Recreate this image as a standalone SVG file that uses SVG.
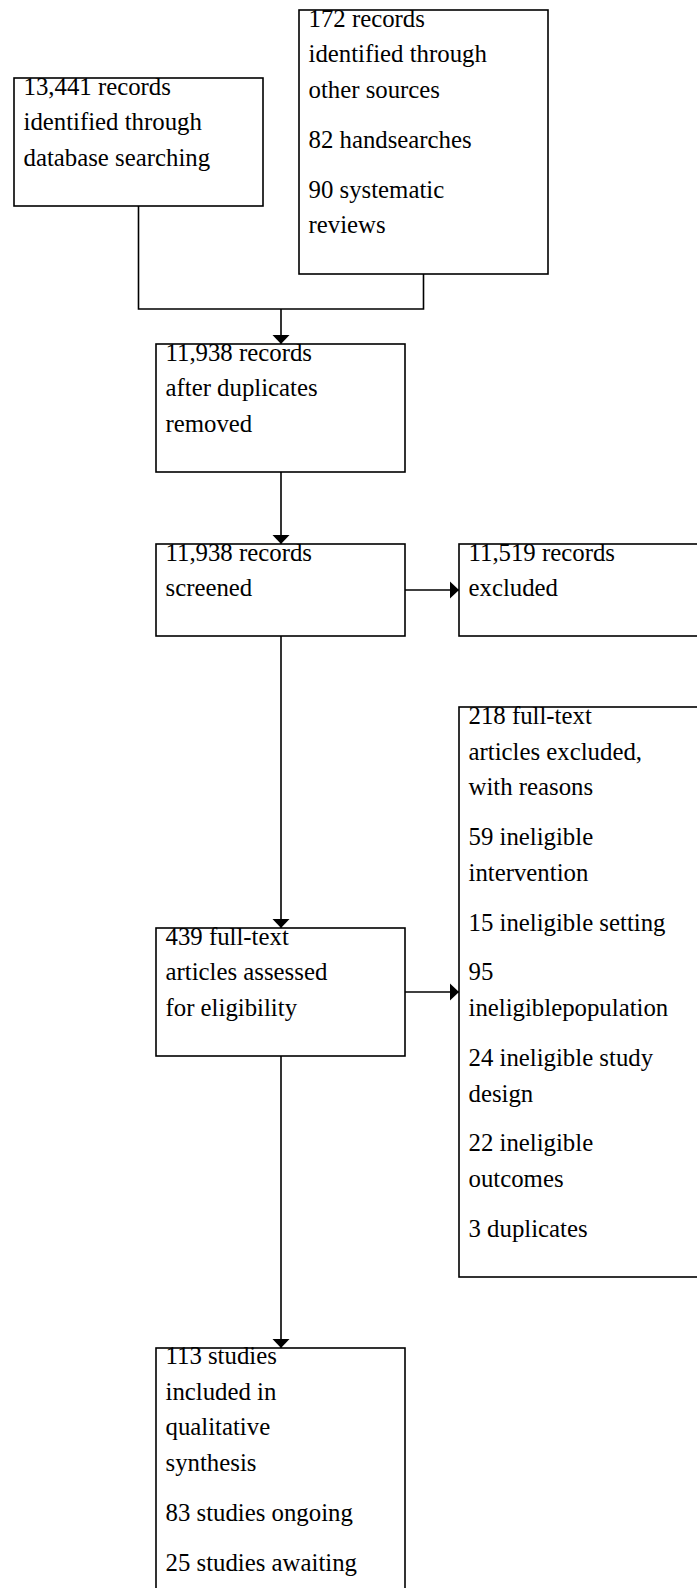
<svg xmlns="http://www.w3.org/2000/svg" width="697" height="1588" viewBox="0 0 697 1588">
<defs>
<style>
.box{fill:#fff;stroke:#000;stroke-width:1.6}
.t{font-family:"Liberation Serif","Times New Roman",serif;font-size:24.8px;fill:#000}
.c{fill:none;stroke:#000;stroke-width:1.6}
</style>
<marker id="arr" markerUnits="userSpaceOnUse" markerWidth="10" markerHeight="18" refX="9" refY="9" orient="auto" viewBox="0 0 10 18">
<path d="M0,0.5 L9,9 L0,17.5 z" fill="#000"/>
</marker>
</defs>
<rect width="697" height="1588" fill="#fff"/>
<g id="connectors">
<path class="c" d="M138.5,206 V309 H423.5 V274"/>
<path class="c" d="M281,309 V344" marker-end="url(#arr)"/>
<path class="c" d="M281,472 V544" marker-end="url(#arr)"/>
<path class="c" d="M405,590 H459" marker-end="url(#arr)"/>
<path class="c" d="M281,636 V928" marker-end="url(#arr)"/>
<path class="c" d="M405,992 H459" marker-end="url(#arr)"/>
<path class="c" d="M281,1056 V1348" marker-end="url(#arr)"/>
</g>
<g id="n_database">
<rect class="box" x="14" y="78" width="249" height="128"/>
<text class="t" x="23.5" y="94.5">13,441 records</text>
<text class="t" x="23.5" y="130.2">identified through</text>
<text class="t" x="23.5" y="165.9">database searching</text>
</g>
<g id="n_other">
<rect class="box" x="299" y="10" width="249" height="264"/>
<text class="t" x="308.5" y="26.5">172 records</text>
<text class="t" x="308.5" y="62.2">identified through</text>
<text class="t" x="308.5" y="97.9">other sources</text>
<text class="t" x="308.5" y="147.7">82 handsearches</text>
<text class="t" x="308.5" y="197.5">90 systematic</text>
<text class="t" x="308.5" y="233.2">reviews</text>
</g>
<g id="n_dedup">
<rect class="box" x="156" y="344" width="249" height="128"/>
<text class="t" x="165.5" y="360.5">11,938 records</text>
<text class="t" x="165.5" y="396.2">after duplicates</text>
<text class="t" x="165.5" y="431.9">removed</text>
</g>
<g id="n_screened">
<rect class="box" x="156" y="544" width="249" height="92"/>
<text class="t" x="165.5" y="560.5">11,938 records</text>
<text class="t" x="165.5" y="596.2">screened</text>
</g>
<g id="n_excluded">
<rect class="box" x="459" y="544" width="249" height="92"/>
<text class="t" x="468.5" y="560.5">11,519 records</text>
<text class="t" x="468.5" y="596.2">excluded</text>
</g>
<g id="n_fulltext">
<rect class="box" x="156" y="928" width="249" height="128"/>
<text class="t" x="165.5" y="944.5">439 full-text</text>
<text class="t" x="165.5" y="980.2">articles assessed</text>
<text class="t" x="165.5" y="1015.9">for eligibility</text>
</g>
<g id="n_ftexcluded">
<rect class="box" x="459" y="707" width="249" height="570"/>
<text class="t" x="468.5" y="723.8">218 full-text</text>
<text class="t" x="468.5" y="759.5">articles excluded,</text>
<text class="t" x="468.5" y="795.2">with reasons</text>
<text class="t" x="468.5" y="845">59 ineligible</text>
<text class="t" x="468.5" y="880.7">intervention</text>
<text class="t" x="468.5" y="930.5">15 ineligible setting</text>
<text class="t" x="468.5" y="980.3">95</text>
<text class="t" x="468.5" y="1016">ineligiblepopulation</text>
<text class="t" x="468.5" y="1065.8">24 ineligible study</text>
<text class="t" x="468.5" y="1101.5">design</text>
<text class="t" x="468.5" y="1151.3">22 ineligible</text>
<text class="t" x="468.5" y="1187">outcomes</text>
<text class="t" x="468.5" y="1236.8">3 duplicates</text>
</g>
<g id="n_included">
<rect class="box" x="156" y="1348" width="249" height="300"/>
<text class="t" x="165.5" y="1364">113 studies</text>
<text class="t" x="165.5" y="1399.7">included in</text>
<text class="t" x="165.5" y="1435.4">qualitative</text>
<text class="t" x="165.5" y="1471.1">synthesis</text>
<text class="t" x="165.5" y="1520.9">83 studies ongoing</text>
<text class="t" x="165.5" y="1570.7">25 studies awaiting</text>
</g>
</svg>
